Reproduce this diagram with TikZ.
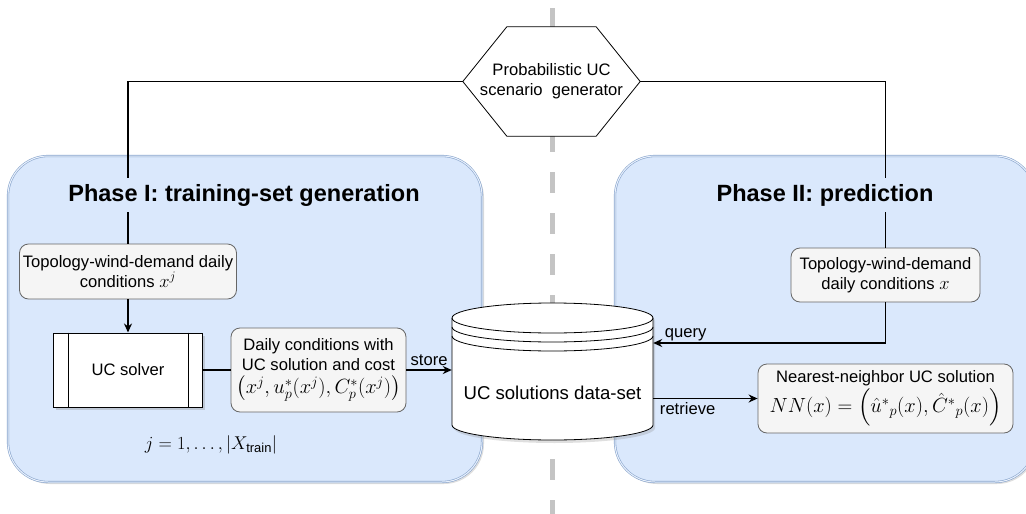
\RequirePackage{fix-cm}
\documentclass[tikz,border=0pt]{standalone}
\usepackage{amsmath}
\usepackage{fontspec}
\setmainfont{Liberation Sans}
\usetikzlibrary{calc,shadows,arrows.meta}
\definecolor{phasefill}{HTML}{DAE8FC}
\definecolor{phaseline}{HTML}{6C8EBF}
\definecolor{boxfill}{HTML}{F5F5F5}
\definecolor{boxline}{HTML}{666666}
\definecolor{splitgray}{HTML}{C4C4C4}
\newcommand{\mathbig}[1]{{\fontsize{20.5}{22}\selectfont$#1$}}
\tikzset{
  phase/.style={rounded corners=40pt, fill=phasefill, draw=phaseline!80!white, line width=0.6pt,
    double=phasefill!60!white, double distance=1pt,
    drop shadow={opacity=0.25, shadow xshift=2pt, shadow yshift=-2pt}},
  phasetitle/.style={font=\fontsize{23.5}{28}\selectfont\bfseries, fill=phasefill, inner sep=6pt},
  infobox/.style={rounded corners=9pt, fill=boxfill, draw=boxline, line width=0.8pt,
    align=center, inner sep=0pt, font=\fontsize{16.6}{20}\selectfont},
  link/.style={line width=1.5pt},
  tag/.style={font=\fontsize{16.6}{20}\selectfont, inner sep=1pt}
}
\begin{document}
\begin{tikzpicture}[x=1pt,y=-1pt,>={Stealth[length=9pt,width=8pt]}]
			\clip (0,0) rectangle (1026,514);
			\draw[splitgray, line width=5pt, dash pattern=on 21pt off 20pt] (552,8) -- (552,514);
			\node[phase, minimum width=474pt, minimum height=326pt] (phaseI) at (245,319) {};
			\node[phase, minimum width=420pt, minimum height=326pt] (phaseII) at (825,319) {};
			\node[font=\fontsize{16.6}{20}\selectfont, align=center, minimum width=177pt, minimum height=109pt, inner sep=0pt] (gen) at (551.5,81.5) {};
			\draw[fill=white, line width=0.8pt] (gen.west) -- ($(gen.north west)+(44,0)$) -- ($(gen.north east)+(-44,0)$) -- (gen.east) -- ($(gen.south east)+(-44,0)$) -- ($(gen.south west)+(44,0)$) -- cycle;
			\node[font=\fontsize{16.6}{20}\selectfont, align=center] at (gen) {Probabilistic UC\\scenario\ \ generator};
			\node[infobox, minimum width=217pt, minimum height=55pt] (topoI) at (128,271.5) {Topology-wind-demand daily\\conditions {\fontsize{18.5}{20}\selectfont$x^j$}};
			\node[draw, fill=white, line width=1pt, minimum width=149pt, minimum height=74pt, font=\fontsize{16.6}{20}\selectfont,
				drop shadow={opacity=0.3, shadow xshift=2pt, shadow yshift=-3pt}] (solver) at (128,370) {UC solver};
			\draw[line width=1pt] ($(solver.north west)+(15,0)$) -- ($(solver.south west)+(15,0)$);
			\draw[line width=1pt] ($(solver.north east)+(-15,0)$) -- ($(solver.south east)+(-15,0)$);
			\node[infobox, minimum width=175pt, minimum height=84pt] (daily) at (318.5,370) {Daily conditions with\\UC solution and cost\\[3pt]\mathbig{\big(x^j, u_p^*(x^j), C_p^*(x^j)\big)}};
			\draw[fill=white, line width=0.8pt, drop shadow={opacity=0.25, shadow xshift=2pt, shadow yshift=-3pt}] (452,318) -- (452,425) arc[start angle=180, end angle=360, x radius=100.5pt, y radius=15pt] -- (653,318) arc[start angle=0, end angle=180, x radius=100.5pt, y radius=15pt] -- cycle;
			\draw[line width=0.8pt] (452,318) arc[start angle=180, end angle=360, x radius=100.5pt, y radius=15pt];
			\draw[line width=0.8pt] (452,327) arc[start angle=180, end angle=360, x radius=100.5pt, y radius=15pt];
			\draw[line width=0.8pt] (452,336) arc[start angle=180, end angle=360, x radius=100.5pt, y radius=15pt];
			\node[font=\fontsize{18.6}{22}\selectfont, minimum width=201pt, inner sep=0pt] (db) at (552.5,393) {UC solutions data-set};
			\node[infobox, minimum width=189pt, minimum height=54pt] (topoII) at (885.5,275) {Topology-wind-demand\\daily conditions {\fontsize{18.5}{20}\selectfont$x$}};
			\node[infobox, minimum width=255pt, minimum height=69pt] (nn) at (885.5,398.5) {Nearest-neighbor UC solution\\[2pt]\mathbig{NN(x)=\Big(\hat{u}^{*}{}_{p}(x), \hat{C}^{*}{}_{p}(x)\Big)}};
			\node[font=\fontsize{18.5}{20}\selectfont] (range) at (211,445) {$j=1,\ldots,|X_{\mathrm{train}}|$};
			\draw[link] (gen.west) -| (topoI.north);
			\draw[link] (gen.east) -| (topoII.north);
			\draw[link,->] (topoI.south) -- (solver.north);
			\draw[link] (solver.east) -- (daily.west);
			\draw[link,->] (daily.east) -- node[tag, above, yshift=3pt] {store} (daily.east -| db.west);
			\draw[link,->] (topoII.south) |- node[tag, above, pos=0.93] {query} ([yshift=50pt]db.east);
			\draw[link,->] (nn.west -| db.east) -- node[tag, below, yshift=-2pt, pos=0.33] {retrieve} (nn.west);
			\node[phasetitle] (titleI) at (244,195) {Phase I: training-set generation};
			\node[phasetitle] (titleII) at (825,195) {Phase II: prediction};
		\end{tikzpicture}
\end{document}
